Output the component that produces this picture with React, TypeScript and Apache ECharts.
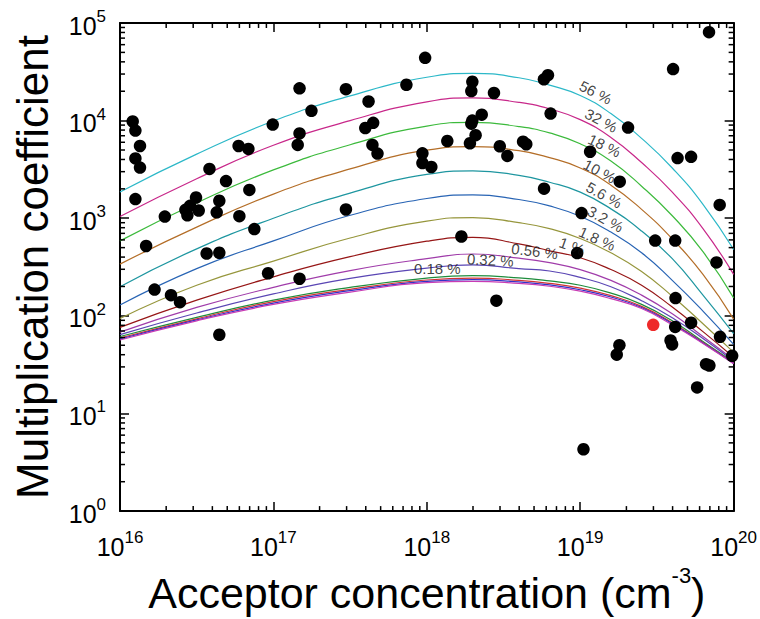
import React, { useEffect, useRef } from "react";
import * as echarts from "echarts";

const FONT = "'Liberation Sans', Arial, Helvetica, sans-serif";

// Acceptor concentration (cm^-3) at which the curves were read
const CURVE_X = [1e16, 3.162e16, 1e17, 3.162e17, 1e18, 1.995e18, 3.981e18, 6.31e18, 1e19, 1.585e19, 2.512e19, 3.981e19, 6.31e19, 1e20];

// Multiplication coefficient of each curve at CURVE_X
const CURVE_56 = [1860, 4540, 9900, 17900, 27800, 30500, 27500, 23100, 18100, 11800, 6580, 3270, 1390, 478];
const CURVE_32 = [1040, 2540, 5590, 10000, 15560, 17070, 15380, 13220, 10230, 6730, 3720, 1850, 783, 266];
const CURVE_18 = [586, 1435, 3126, 5660, 8795, 9614, 8690, 7480, 5790, 3853, 2130, 1060, 454, 153];
const CURVE_10 = [339, 811, 1768, 3200, 4977, 5420, 4920, 4180, 3275, 2180, 1233, 614, 266, 92.6];
const CURVE_5_6 = [199, 486, 1000, 1811, 2813, 3055, 2750, 2337, 1852, 1247, 739, 385, 163, 65.8];
const CURVE_3_2 = [129, 305, 586, 1072, 1592, 1735, 1556, 1337, 1047, 722, 443, 231, 112, 51];
const CURVE_1_8 = [94, 206, 364, 628, 933, 1016, 901, 783, 621, 443, 285, 159, 83, 42.3];
const CURVE_1 = [76.2, 145, 251, 404, 582, 638, 546, 464, 394, 298, 206, 123, 68.9, 37.7];
const CURVE_0_56 = [68.1, 122, 196, 291, 385, 430, 390, 351, 298, 231, 163, 105, 61.4, 35.5];
const CURVE_0_32 = [64.3, 107, 168, 242, 308, 333, 305, 288, 248, 199, 143, 95.4, 58.6, 34.3];
const CURVE_0_18 = [61.4, 96.6, 145, 196, 244, 258, 245, 228, 206, 171, 131, 89, 54.6, 33.5];
const CURVE_A = [59.3, 93.3, 140, 187, 233, 244, 231, 215, 192, 161, 125, 85, 53.4, 32.9];
const CURVE_B = [57.9, 91.1, 135, 181, 226, 235, 223, 208, 185, 156, 122, 83, 52.7, 32.6];
const CURVE_C = [56.6, 89, 131, 175, 219, 226, 215, 201, 179, 150, 119, 81, 52.2, 32.3];

const CURVE_COLORS = ["#2cb8c8", "#c8288a", "#3cba3c", "#b46e28", "#1e96a0", "#2864b4", "#96963c", "#961616", "#a03caa", "#5a46b4", "#1e8c3c", "#d23232", "#3232c8", "#c83cb4"];
const CURVE_VALUES = [CURVE_56, CURVE_32, CURVE_18, CURVE_10, CURVE_5_6, CURVE_3_2, CURVE_1_8, CURVE_1, CURVE_0_56, CURVE_0_32, CURVE_0_18, CURVE_A, CURVE_B, CURVE_C];

// Curve labels
const LABEL_TEXT = ["56 %", "32 %", "18 %", "10 %", "5.6 %", "3.2 %", "1.8 %", "1 %", "0.56 %", "0.32 %", "0.18 %"];
const LABEL_X = [1.26e19, 1.37e19, 1.44e19, 1.34e19, 1.43e19, 1.46e19, 1.29e19, 8.83e18, 5.05e18, 2.59e18, 1.17e18];
const LABEL_Y = [19500, 10070, 5560, 3030, 1735, 984, 618, 521, 461, 374, 303];
const LABEL_ROT = [-27, -28, -26, -28, -29, -29, -24, -20, -7, -3, 0];

// Measured points (black)
const POINTS: number[][] = [
  [1.21e16, 9800], [1.26e16, 7900], [1.35e16, 5500], [1.26e16, 4100], [1.35e16, 3300], [1.26e16, 1570],
  [1.48e16, 520], [1.96e16, 1040], [2.67e16, 1220], [2.75e16, 1070], [2.86e16, 1340], [3.13e16, 1630],
  [3.26e16, 1200], [3.67e16, 435], [4.44e16, 443], [3.83e16, 3200], [4.27e16, 1150], [4.44e16, 1510],
  [4.91e16, 2400], [5.93e16, 5500], [6.87e16, 5130], [6.0e16, 1050], [6.97e16, 1950], [7.51e16, 775],
  [9.9e16, 9100], [1.48e17, 21400], [1.77e17, 12600], [1.48e17, 7400], [1.44e17, 5640], [2.97e17, 21000],
  [2.97e17, 1230], [4.17e17, 15700], [3.97e17, 8400], [4.47e17, 9500], [4.42e17, 5640], [4.77e17, 4600],
  [7.36e17, 23300], [9.75e17, 44000], [9.36e17, 4620], [9.36e17, 3680], [1.07e18, 3350], [1.98e18, 25000],
  [1.95e18, 20100], [2.74e18, 19200], [5.8e18, 26500], [6.16e18, 29200], [6.41e18, 11800], [2.28e18, 11500],
  [1.98e18, 10000], [1.95e18, 9300], [2.08e18, 7100], [1.91e18, 5860], [1.36e18, 6180], [2.99e18, 5460],
  [3.35e18, 4350], [4.24e18, 6090], [4.45e18, 5730], [5.81e18, 2010], [2.05e19, 8490], [1.16e19, 4800],
  [1.81e19, 2370], [4.03e19, 33700], [6.91e19, 80600], [4.31e19, 4130], [5.28e19, 4260], [8.11e19, 1370],
  [1.02e19, 1130], [1.68e18, 650], [3.08e19, 590], [4.16e19, 590], [9.55e18, 440], [7.73e19, 353],
  [2.84e18, 143], [4.18e19, 152], [5.28e19, 85], [4.16e19, 77], [3.88e19, 56], [3.97e19, 51],
  [1.8e19, 50], [1.73e19, 40], [8.15e19, 61], [9.78e19, 39], [6.61e19, 32], [6.95e19, 31],
  [5.78e19, 18.5], [1.05e19, 4.3], [1.68e16, 186], [2.15e16, 163], [2.46e16, 138], [9.23e16, 273],
  [1.48e17, 240], [4.44e16, 64],
];
// Highlighted point (red)
const RED_POINTS: number[][] = [[2.99e19, 81]];

const X_MIN = 1e16;
const X_MAX = 1e20;
const Y_MIN = 1;
const Y_MAX = 1e5;
const X_DECADES = [16, 17, 18, 19];
const Y_DECADES = [0, 1, 2, 3, 4];
const MINOR_MULT = [2, 3, 4, 5, 6, 7, 8, 9];

const supRich = {
  b: { fontSize: 25, fontFamily: FONT, color: "#000", verticalAlign: "bottom", lineHeight: 30 },
  s: { fontSize: 17, fontFamily: FONT, color: "#000", verticalAlign: "top", lineHeight: 12 },
};
const powFmt = (v: number) => `{b|10}{s|${Math.round(Math.log10(v))}}`;

export default function App() {
  const ref = useRef<HTMLDivElement>(null);
  useEffect(() => {
    if (!ref.current) return;
    const chart = echarts.init(ref.current, undefined, { renderer: "svg" });

    const axisBase: any = {
      type: "log",
      logBase: 10,
      axisLine: { show: true, onZero: false, lineStyle: { color: "#000", width: 2 } },
      axisTick: { show: true, inside: true, length: 9, lineStyle: { color: "#000", width: 1.5 } },
      splitLine: { show: false },
      minorTick: { show: false },
      minorSplitLine: { show: false },
    };

    const xMinor: number[][] = [];
    X_DECADES.forEach((d) => MINOR_MULT.forEach((m) => xMinor.push([m * Math.pow(10, d), 10])));
    const yMinor: number[][] = [];
    Y_DECADES.forEach((d) => MINOR_MULT.forEach((m) => yMinor.push([1e17, m * Math.pow(10, d)])));

    const tickStyle = { stroke: "#000", lineWidth: 1.5 };

    const lineSeries = CURVE_VALUES.map((vals, i) => ({
      type: "line",
      data: CURVE_X.map((x, j) => [x, vals[j]]),
      smooth: 0.5,
      symbol: "none",
      silent: true,
      z: 2,
      lineStyle: { color: CURVE_COLORS[i], width: 1.2 },
    }));

    const option: any = {
      animation: false,
      grid: { left: 120, right: 25, top: 23, bottom: 101 },
      xAxis: [
        {
          ...axisBase,
          min: X_MIN,
          max: X_MAX,
          position: "bottom",
          axisLabel: { margin: 18, formatter: powFmt, rich: supRich },
          name: "{n|Acceptor concentration (cm}{s|-3}{n|)}",
          nameLocation: "middle",
          nameGap: 38,
          nameTextStyle: {
            rich: {
              n: { fontSize: 43, fontFamily: FONT, color: "#000", verticalAlign: "bottom", lineHeight: 50 },
              s: { fontSize: 22, fontFamily: FONT, color: "#000", verticalAlign: "top", lineHeight: 31 },
            },
          },
        },
        { ...axisBase, min: X_MIN, max: X_MAX, position: "top", axisLabel: { show: false } },
      ],
      yAxis: [
        {
          ...axisBase,
          min: Y_MIN,
          max: Y_MAX,
          position: "left",
          axisLabel: { margin: 14, formatter: powFmt, rich: supRich },
          name: "Multiplication coefficient",
          nameLocation: "middle",
          nameGap: 66,
          nameTextStyle: { fontSize: 44, fontFamily: FONT, color: "#000" },
        },
        { ...axisBase, min: Y_MIN, max: Y_MAX, position: "right", axisLabel: { show: false } },
      ],
      series: [
        ...lineSeries,
        {
          type: "scatter",
          data: POINTS,
          symbol: "circle",
          symbolSize: 12.5,
          itemStyle: { color: "#000", opacity: 1 },
          silent: true,
          z: 5,
        },
        {
          type: "scatter",
          data: RED_POINTS,
          symbol: "circle",
          symbolSize: 12.5,
          itemStyle: { color: "#ee2a2a", opacity: 1 },
          silent: true,
          z: 5,
        },
        {
          type: "scatter",
          symbolSize: 0,
          silent: true,
          z: 6,
          data: LABEL_TEXT.map((t, i) => ({
            name: t,
            value: [LABEL_X[i], LABEL_Y[i]],
            label: { rotate: LABEL_ROT[i] },
          })),
          label: {
            show: true,
            position: "inside",
            formatter: (p: any) => p.name,
            fontSize: 15,
            fontFamily: FONT,
            color: "#111",
          },
        },
        {
          type: "custom",
          silent: true,
          z: 4,
          data: xMinor,
          renderItem: (params: any, api: any) => {
            const p = api.coord([api.value(0), api.value(1)]);
            const cs = params.coordSys;
            const yb = cs.y + cs.height;
            return {
              type: "group",
              children: [
                { type: "line", shape: { x1: p[0], y1: yb, x2: p[0], y2: yb - 5 }, style: tickStyle },
                { type: "line", shape: { x1: p[0], y1: cs.y, x2: p[0], y2: cs.y + 5 }, style: tickStyle },
              ],
            };
          },
        },
        {
          type: "custom",
          silent: true,
          z: 4,
          data: yMinor,
          renderItem: (params: any, api: any) => {
            const p = api.coord([api.value(0), api.value(1)]);
            const cs = params.coordSys;
            const xr = cs.x + cs.width;
            return {
              type: "group",
              children: [
                { type: "line", shape: { x1: cs.x, y1: p[1], x2: cs.x + 5, y2: p[1] }, style: tickStyle },
                { type: "line", shape: { x1: xr, y1: p[1], x2: xr - 5, y2: p[1] }, style: tickStyle },
              ],
            };
          },
        },
      ],
    };

    chart.setOption(option);
    return () => chart.dispose();
  }, []);

  return (
    <div
      ref={ref}
      style={{ position: "fixed", left: 0, top: 0, width: 760, height: 619, background: "#fff" }}
    />
  );
}
